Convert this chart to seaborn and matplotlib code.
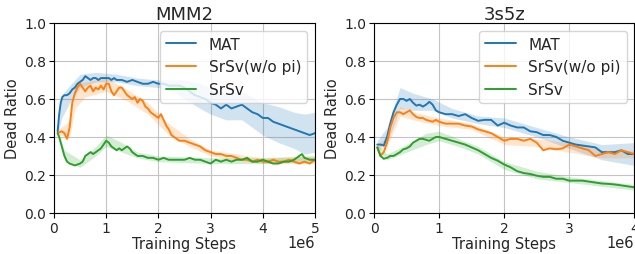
import matplotlib
matplotlib.use("Agg")
import matplotlib.pyplot as plt
from matplotlib.ticker import FuncFormatter
import pandas as pd
import seaborn as sns

labels = ["MAT", "SrSv(w/o pi)", "SrSv"]
colors = ["#1f77b4", "#ff7f0e", "#2ca02c"]

# ---- MMM2 (x in 1e6 steps) ----
mmm2_mat_x = [0.07, 0.1, 0.13, 0.16, 0.2,
              0.25, 0.3, 0.35, 0.4, 0.45, 0.5, 0.55, 0.6, 0.65, 0.7,
              0.75, 0.8, 0.85, 0.9, 0.95, 1.0, 1.05, 1.1, 1.15, 1.2,
              1.3, 1.4, 1.5, 1.6, 1.7, 1.8, 1.9, 2.0, 2.1, 2.2,
              2.3, 2.4, 2.5, 2.6, 2.7, 2.8, 2.9, 3.0, 3.1, 3.2,
              3.3, 3.4, 3.5, 3.6, 3.7, 3.8, 3.9, 4.0, 4.1, 4.2,
              4.3, 4.4, 4.5, 4.6, 4.7, 4.8, 4.9, 5.0]
mmm2_mat_y = [0.43, 0.52, 0.58, 0.61, 0.62,
              0.62, 0.63, 0.65, 0.66, 0.68, 0.69, 0.70, 0.72, 0.71, 0.70,
              0.71, 0.71, 0.70, 0.71, 0.71, 0.71, 0.71, 0.70, 0.71, 0.70,
              0.70, 0.69, 0.70, 0.69, 0.68, 0.68, 0.69, 0.68, 0.68, 0.67,
              0.67, 0.67, 0.66, 0.64, 0.62, 0.61, 0.60, 0.58, 0.57, 0.55,
              0.57, 0.55, 0.56, 0.57, 0.55, 0.53, 0.52, 0.50, 0.50, 0.48,
              0.47, 0.46, 0.45, 0.44, 0.43, 0.42, 0.41, 0.42]
mmm2_mat_band_x = [0.07, 0.15, 0.3, 0.5, 0.8, 1.2, 1.6, 2.0, 2.3, 2.5, 2.8, 3.0, 3.3, 3.6, 4.0, 4.3, 4.6, 4.8, 5.0]
mmm2_mat_lo = [0.41, 0.50, 0.58, 0.66, 0.69, 0.69, 0.67, 0.66, 0.64, 0.60, 0.55, 0.52, 0.49, 0.49, 0.41, 0.37, 0.34, 0.31, 0.32]
mmm2_mat_hi = [0.45, 0.62, 0.67, 0.73, 0.74, 0.73, 0.71, 0.70, 0.70, 0.70, 0.68, 0.66, 0.63, 0.64, 0.58, 0.56, 0.53, 0.52, 0.53]

mmm2_wopi_x = [0.07, 0.15,
               0.2, 0.25, 0.3, 0.35, 0.4, 0.45, 0.5, 0.55, 0.6, 0.65,
               0.7, 0.75, 0.8, 0.85, 0.9, 0.95, 1.0, 1.05, 1.1, 1.15,
               1.2, 1.25, 1.3, 1.35, 1.4, 1.45, 1.5, 1.55, 1.6, 1.65,
               1.7, 1.75, 1.8, 1.85, 1.9, 1.95, 2.0, 2.05, 2.1, 2.15,
               2.2, 2.25, 2.3,
               2.4, 2.5, 2.6, 2.7, 2.8, 2.9, 3.0, 3.1, 3.2, 3.3,
               3.4, 3.5, 3.6, 3.7, 3.8, 3.9, 4.0, 4.1, 4.2, 4.3,
               4.4, 4.5, 4.6, 4.7, 4.8, 4.9, 5.0]
mmm2_wopi_y = [0.42, 0.43,
               0.42, 0.39, 0.45, 0.58, 0.63, 0.66, 0.68, 0.66, 0.64, 0.66,
               0.67, 0.64, 0.66, 0.65, 0.67, 0.65, 0.68, 0.68, 0.64, 0.62,
               0.64, 0.66, 0.66, 0.64, 0.62, 0.61, 0.60, 0.61, 0.58, 0.60,
               0.59, 0.56, 0.55, 0.53, 0.52, 0.51, 0.50, 0.52, 0.49, 0.46,
               0.44, 0.41, 0.40,
               0.38, 0.38, 0.37, 0.36, 0.35, 0.33, 0.32, 0.31, 0.31, 0.30,
               0.30, 0.29, 0.28, 0.28, 0.27, 0.28, 0.27, 0.27, 0.28, 0.27,
               0.27, 0.28, 0.27, 0.26, 0.27, 0.26, 0.28]
mmm2_wopi_band_x = [0.07, 0.3, 0.4, 0.6, 1.0, 1.4, 1.8, 2.2, 2.6, 3.0, 4.0, 5.0]
mmm2_wopi_lo = [0.41, 0.40, 0.55, 0.61, 0.64, 0.59, 0.52, 0.41, 0.35, 0.30, 0.26, 0.26]
mmm2_wopi_hi = [0.44, 0.48, 0.68, 0.69, 0.71, 0.65, 0.58, 0.47, 0.39, 0.33, 0.29, 0.30]

mmm2_srsv_x = [0.07, 0.1,
               0.15, 0.2, 0.25, 0.3, 0.35, 0.4, 0.45, 0.5, 0.55, 0.6,
               0.65, 0.7, 0.75, 0.8, 0.85, 0.9, 0.95, 1.0, 1.05, 1.1,
               1.15, 1.2, 1.25, 1.3, 1.35, 1.4, 1.45, 1.5,
               1.6, 1.7, 1.8, 1.9, 2.0, 2.1, 2.2, 2.3, 2.4, 2.5,
               2.6, 2.7, 2.8, 2.9, 3.0, 3.1, 3.2, 3.3, 3.4, 3.5,
               3.6, 3.7, 3.8, 3.9, 4.0, 4.1, 4.2, 4.3, 4.4, 4.5,
               4.6, 4.7, 4.75, 4.8, 4.9, 5.0]
mmm2_srsv_y = [0.42, 0.40,
               0.35, 0.30, 0.27, 0.26, 0.255, 0.25, 0.255, 0.26, 0.27, 0.30,
               0.31, 0.32, 0.31, 0.32, 0.33, 0.34, 0.36, 0.38, 0.37, 0.35,
               0.34, 0.33, 0.34, 0.33, 0.34, 0.35, 0.34, 0.32,
               0.30, 0.30, 0.29, 0.29, 0.28, 0.29, 0.28, 0.28, 0.28, 0.28,
               0.29, 0.28, 0.28, 0.27, 0.26, 0.28, 0.27, 0.28, 0.27, 0.28,
               0.28, 0.29, 0.27, 0.27, 0.28, 0.27, 0.26, 0.26, 0.27, 0.27,
               0.28, 0.30, 0.31, 0.29, 0.28, 0.28]
mmm2_srsv_band_x = [0.07, 0.2, 0.5, 0.8, 1.0, 1.3, 1.6, 2.0, 3.0, 4.0, 5.0]
mmm2_srsv_lo = [0.41, 0.28, 0.24, 0.30, 0.35, 0.32, 0.29, 0.27, 0.26, 0.26, 0.27]
mmm2_srsv_hi = [0.43, 0.33, 0.28, 0.35, 0.41, 0.37, 0.32, 0.30, 0.29, 0.29, 0.30]

# ---- 3s5z ----
s3s5z_x = [0.05, 0.1, 0.15, 0.2, 0.25, 0.3, 0.35, 0.4, 0.45, 0.5,
           0.55, 0.6, 0.65, 0.7, 0.75, 0.8, 0.85, 0.9, 0.95, 1.0,
           1.1, 1.2, 1.3, 1.4, 1.5, 1.6, 1.7, 1.8, 1.9, 2.0,
           2.1, 2.2, 2.3, 2.4, 2.5, 2.6, 2.7, 2.8, 2.9, 3.0,
           3.1, 3.2, 3.3, 3.4, 3.5, 3.6, 3.7, 3.8, 3.9, 4.0]
s3s5z_mat_y = [0.36, 0.36, 0.355, 0.40, 0.47, 0.53, 0.57, 0.60, 0.60, 0.59,
               0.60, 0.58, 0.565, 0.57, 0.56, 0.57, 0.585, 0.57, 0.54, 0.53,
               0.52, 0.52, 0.51, 0.52, 0.50, 0.485, 0.49, 0.49, 0.46, 0.475,
               0.46, 0.45, 0.45, 0.43, 0.425, 0.41, 0.41, 0.40, 0.38, 0.37,
               0.36, 0.355, 0.35, 0.345, 0.32, 0.32, 0.32, 0.33, 0.31, 0.31]
s3s5z_wopi_y = [0.345, 0.30, 0.32, 0.37, 0.45, 0.50, 0.53, 0.53, 0.52, 0.53,
                0.54, 0.52, 0.505, 0.50, 0.50, 0.49, 0.485, 0.48, 0.49, 0.48,
                0.47, 0.47, 0.47, 0.46, 0.455, 0.44, 0.43, 0.42, 0.40, 0.38,
                0.39, 0.39, 0.38, 0.39, 0.37, 0.33, 0.34, 0.335, 0.34, 0.36,
                0.35, 0.34, 0.33, 0.30, 0.31, 0.32, 0.31, 0.33, 0.32, 0.31]
s3s5z_srsv_y = [0.345, 0.30, 0.285, 0.29, 0.30, 0.30, 0.31, 0.32, 0.335, 0.34,
                0.35, 0.37, 0.38, 0.39, 0.39, 0.385, 0.38, 0.39, 0.40, 0.40,
                0.39, 0.38, 0.37, 0.36, 0.345, 0.33, 0.31, 0.29, 0.275, 0.255,
                0.24, 0.22, 0.21, 0.205, 0.196, 0.19, 0.19, 0.18, 0.18, 0.17,
                0.17, 0.17, 0.165, 0.16, 0.155, 0.153, 0.15, 0.145, 0.14, 0.135]
s3s5z_mat_band_x = [0.05, 0.2, 0.4, 0.6, 0.9, 1.2, 1.6, 2.0, 2.5, 3.0, 3.5, 4.0]
s3s5z_mat_lo = [0.34, 0.37, 0.55, 0.54, 0.54, 0.50, 0.47, 0.45, 0.40, 0.34, 0.28, 0.25]
s3s5z_mat_hi = [0.38, 0.45, 0.66, 0.63, 0.60, 0.55, 0.51, 0.50, 0.45, 0.40, 0.36, 0.37]
s3s5z_wopi_band_x = [0.05, 0.2, 0.4, 0.6, 1.0, 1.5, 2.0, 2.5, 3.0, 3.5, 4.0]
s3s5z_wopi_lo = [0.33, 0.35, 0.51, 0.49, 0.46, 0.44, 0.36, 0.35, 0.32, 0.29, 0.29]
s3s5z_wopi_hi = [0.36, 0.40, 0.56, 0.53, 0.50, 0.47, 0.40, 0.39, 0.37, 0.33, 0.33]
s3s5z_srsv_band_x = [0.05, 0.2, 0.5, 0.8, 1.0, 1.3, 1.6, 2.0, 2.5, 3.0, 3.5, 4.0]
s3s5z_srsv_lo = [0.33, 0.28, 0.32, 0.36, 0.38, 0.35, 0.31, 0.23, 0.18, 0.16, 0.14, 0.12]
s3s5z_srsv_hi = [0.36, 0.31, 0.36, 0.42, 0.43, 0.39, 0.35, 0.27, 0.22, 0.19, 0.17, 0.15]

panels = [
    ("MMM2", 5,
     [(mmm2_mat_x, mmm2_mat_y), (mmm2_wopi_x, mmm2_wopi_y), (mmm2_srsv_x, mmm2_srsv_y)],
     [(mmm2_mat_band_x, mmm2_mat_lo, mmm2_mat_hi),
      (mmm2_wopi_band_x, mmm2_wopi_lo, mmm2_wopi_hi),
      (mmm2_srsv_band_x, mmm2_srsv_lo, mmm2_srsv_hi)]),
    ("3s5z", 4,
     [(s3s5z_x, s3s5z_mat_y), (s3s5z_x, s3s5z_wopi_y), (s3s5z_x, s3s5z_srsv_y)],
     [(s3s5z_mat_band_x, s3s5z_mat_lo, s3s5z_mat_hi),
      (s3s5z_wopi_band_x, s3s5z_wopi_lo, s3s5z_wopi_hi),
      (s3s5z_srsv_band_x, s3s5z_srsv_lo, s3s5z_srsv_hi)]),
]

sns.set_style("ticks")
plt.rcParams['font.family'] = ['DejaVu Sans']

fig = plt.figure(figsize=(6.35, 2.55), dpi=100)
axes = [fig.add_axes([0.085, 0.161, 0.411, 0.745]),
        fig.add_axes([0.589, 0.161, 0.41, 0.745])]

for ax, (title, xmax, lines, bands) in zip(axes, panels):
    frames = []
    for (x, y), lab in zip(lines, labels):
        frames.append(pd.DataFrame({'step': [v * 1e6 for v in x], 'ratio': y, 'method': lab}))
    df = pd.concat(frames, ignore_index=True)

    # shaded spread around each curve
    for (bx, lo, hi), col in zip(bands, colors):
        ax.fill_between([v * 1e6 for v in bx], lo, hi, color=col, alpha=0.2, linewidth=0)

    sns.lineplot(data=df, x='step', y='ratio', hue='method', hue_order=labels,
                 palette=colors, ax=ax, linewidth=1.4, estimator=None)

    ax.set_xlim(0, xmax * 1e6)
    ax.set_ylim(0, 1.0)
    ax.set_yticks([0, 0.2, 0.4, 0.6, 0.8, 1.0])
    ax.set_xticks([i * 1e6 for i in range(xmax + 1)])
    ax.xaxis.set_major_formatter(FuncFormatter(lambda v, p: f"{v / 1e6:.0f}"))
    ax.grid(True, color='#c4c4c4', linewidth=0.8)
    for s in ax.spines.values():
        s.set_color('black')
        s.set_linewidth(0.8)
    ax.set_title(title, fontsize=13, pad=3)
    ax.set_xlabel('Training Steps', fontsize=10.5, labelpad=1)
    ax.set_ylabel('Dead Ratio', fontsize=10.5, labelpad=3)
    ax.tick_params(labelsize=10, length=3.5, pad=2, color='black')
    ax.text(1.0, -0.18, '1e6', transform=ax.transAxes, ha='right', va='baseline', fontsize=10.5)
    ax.legend(loc='upper right', fontsize=11, title=None, framealpha=0.8)

fig.savefig('out.png', dpi=100)
